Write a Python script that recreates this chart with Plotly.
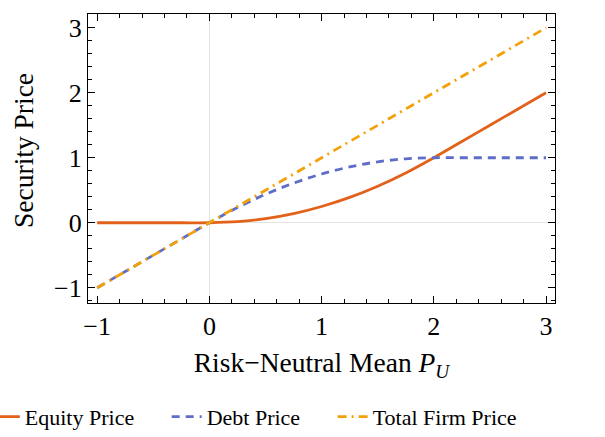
import plotly.graph_objects as go

# Risk-neutral mean of the firm's underlying value
p_u = [-1.0, -0.75, -0.5, -0.25, 0.0, 0.25, 0.5, 0.75, 1.0, 1.25, 1.5, 1.75,
       2.0, 2.25, 2.5, 2.75, 3.0]

# Security prices
equity = [0.0, 0.0, 0.0, 0.0, 0.0, 0.016, 0.0625, 0.14, 0.25, 0.39, 0.5625, 0.766,
          1.0, 1.25, 1.5, 1.75, 2.0]
debt = [-1.0, -0.75, -0.5, -0.25, 0.0, 0.234, 0.4375, 0.609, 0.75, 0.859, 0.9375, 0.984,
        1.0, 1.0, 1.0, 1.0, 1.0]
total = [-1.0, -0.75, -0.5, -0.25, 0.0, 0.25, 0.5, 0.75, 1.0, 1.25, 1.5, 1.75,
         2.0, 2.25, 2.5, 2.75, 3.0]

x_ticks = [-1, 0, 1, 2, 3]
y_ticks = [-1, 0, 1, 2, 3]

FONT = "Liberation Serif"
PAD = "\u00a0" * 5  # extra room between legend entries

fig = go.Figure()
fig.add_trace(go.Scatter(x=p_u, y=equity, name="Equity Price" + PAD, mode="lines",
                         line=dict(color="#E2621B", width=2.8, shape="spline")))
fig.add_trace(go.Scatter(x=p_u, y=debt, name="Debt Price" + PAD, mode="lines",
                         line=dict(color="#5D6DC8", width=2.8, shape="spline",
                                   dash="8px,6px")))
fig.add_trace(go.Scatter(x=p_u, y=total, name="Total Firm Price", mode="lines",
                         line=dict(color="#F2A10A", width=2.8,
                                   dash="9px,5px,2px,5px")))

axis_common = dict(
    showline=True, linecolor="black", linewidth=1.2, mirror="allticks",
    ticks="inside", ticklen=7, tickwidth=1.2, tickcolor="black",
    showgrid=False, zeroline=True, zerolinecolor="#e3e3e3", zerolinewidth=1,
    tickfont=dict(family=FONT, size=26, color="black"),
    minor=dict(ticks="inside", ticklen=4, tickwidth=1, tickcolor="black",
               dtick=0.2, showgrid=False),
)

fig.update_xaxes(range=[-1.082, 3.08], tickvals=x_ticks,
                 ticktext=["\u22121" if v < 0 else str(v) for v in x_ticks],
                 title=dict(text="Risk\u2212Neutral Mean <i>P</i><sub><i>U</i></sub>",
                            font=dict(family=FONT, size=27.5, color="black"),
                            standoff=12),
                 **axis_common)
fig.update_yaxes(range=[-1.235, 3.212], tickvals=y_ticks,
                 ticktext=["\u22121" if v < 0 else str(v) for v in y_ticks],
                 **axis_common)

# Vertical axis label, placed slightly above the plot's mid-height
fig.add_annotation(text="Security Price", textangle=-90, showarrow=False,
                   xref="paper", yref="paper", x=-0.138, y=0.528,
                   xanchor="center", yanchor="middle",
                   font=dict(family=FONT, size=27.5, color="black"))

fig.update_layout(
    width=605, height=437,
    margin=dict(l=87.5, r=50, t=13.5, b=134, autoexpand=False),
    paper_bgcolor="white", plot_bgcolor="white",
    font=dict(family=FONT, color="black"),
    legend=dict(orientation="h", xref="paper", yref="paper",
                x=-0.221, xanchor="left", y=-0.394, yanchor="middle",
                font=dict(family=FONT, size=22, color="black"),
                bgcolor="rgba(0,0,0,0)"),
)

fig.write_html("out.html")
